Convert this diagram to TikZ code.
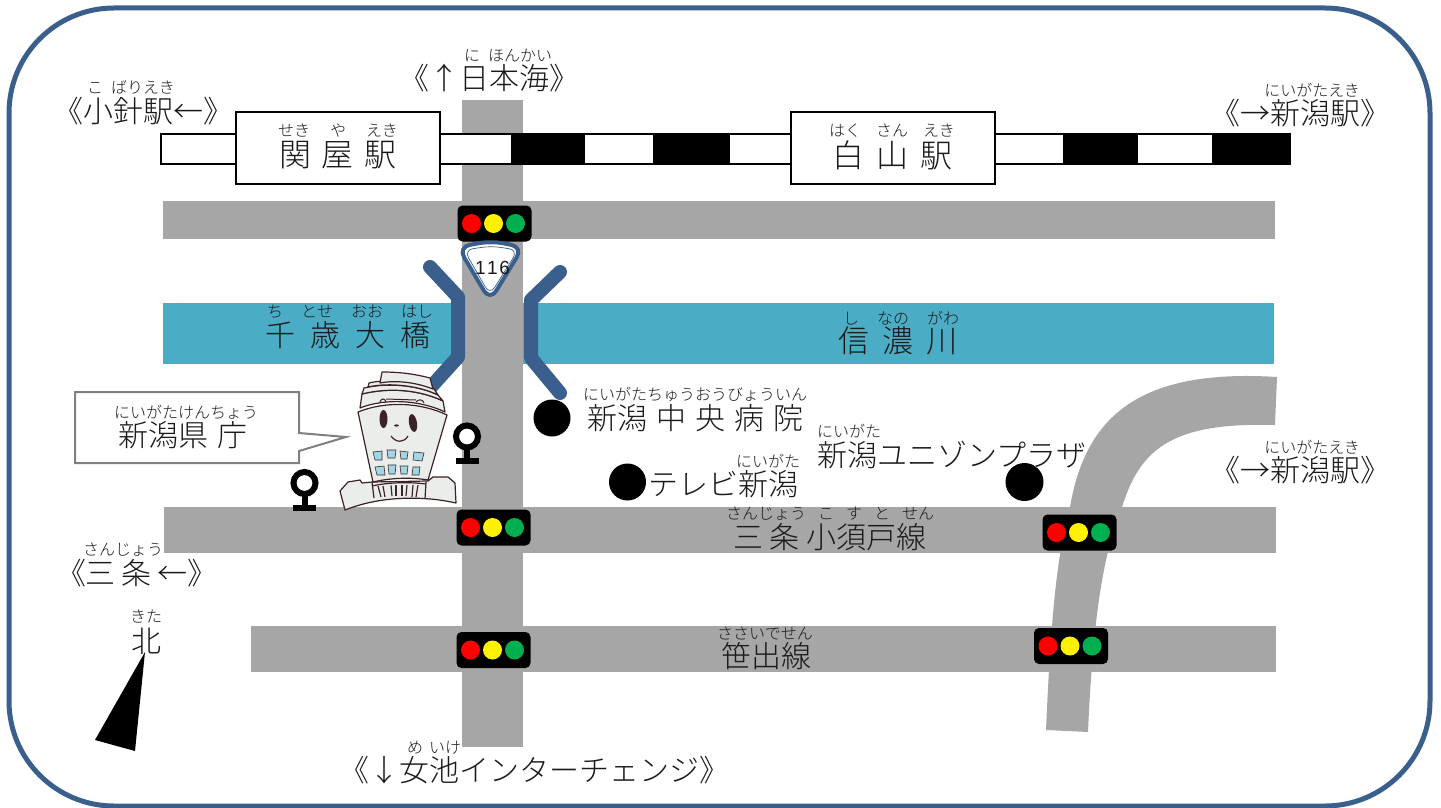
\documentclass[tikz,border=0pt]{standalone}
\usepackage{fontspec}
\setmainfont{Noto Sans CJK JP Light}
\newfontfamily\numfont{Liberation Sans}
\definecolor{frameblue}{HTML}{3B5F8D}
\definecolor{road}{HTML}{A6A6A6}
\definecolor{river}{HTML}{4BACC6}
\definecolor{bldg}{HTML}{EBEDEB}
\definecolor{bline}{HTML}{3A2226}
\definecolor{win}{HTML}{A2D6E2}
\definecolor{ink}{HTML}{1A1A1A}
\definecolor{sigreen}{HTML}{00B050}
\tikzset{
 roadbar/.style={fill=road,draw=none},
 railbox/.style={draw=black,line width=1.6pt,fill=white},
 railblack/.style={fill=black,draw=none},
 stationbox/.style={draw=black,line width=2.4pt,fill=white},
 bridgearm/.style={draw=frameblue,line width=14pt,line cap=round,line join=round},
 lbl/.style={inner sep=0pt,text=ink,font=\fontsize{30}{30}\selectfont},
 rb/.style={inner sep=0pt,text=ink,font=\fontsize{16}{16}\selectfont},
 blg/.style={draw=bline,line width=1.2pt,fill=bldg,line join=round},
 wnd/.style={draw=bline,line width=.6pt,fill=win},
 pinmark/.style={draw=black,line width=6pt,fill=white},
 dot/.style={fill=black,draw=none}
}
\newcommand{\sig}[2]{%
 \fill[black,rounded corners=5pt] (#1-37,#2-18) rectangle (#1+37,#2+18);
 \fill[red] (#1-23,#2) circle (9.5);
 \fill[yellow] (#1-1,#2) circle (9.5);
 \fill[sigreen] (#1+21,#2) circle (9.5);
}
\newcommand{\gp}[1]{\hspace{#1pt}}
\begin{document}
\begin{tikzpicture}[x=1pt,y=-1pt]
\useasboundingbox (0,0) rectangle (1441,808);
\fill[white] (0,0) rectangle (1441,808);
\draw[frameblue,line width=5pt,rounded corners=105pt] (9,8) rectangle (1430,806);
% river and roads
\fill[river] (163,303) rectangle (1274,364);
\fill[road] (1046,730) .. controls (1050,640) and (1055,560) .. (1070,507) .. controls (1085,420) and (1135,368) .. (1277,377) -- (1275,425) .. controls (1170,422) and (1140,450) .. (1122,507) .. controls (1100,560) and (1092,640) .. (1088,732) -- cycle;
\fill[roadbar] (163,201) rectangle (1275,239);
\fill[roadbar] (164,507) rectangle (1276,553);
\fill[roadbar] (251,626) rectangle (1276,672);
\fill[roadbar] (462,100) rectangle (523,747);
% railway
\draw[railbox] (161,134) rectangle (1290,164);
\fill[railblack] (511,134) rectangle (585,165);
\fill[railblack] (653,134) rectangle (730,165);
\fill[railblack] (1063,134) rectangle (1138,165);
\fill[railblack] (1212,134) rectangle (1290,165);
\draw[stationbox] (236,112) rectangle (440,184);
\draw[stationbox] (791,112) rectangle (995,184);
% bridge
\draw[bridgearm] (430,267) -- (458,297) -- (458,357) -- (430,388);
\draw[bridgearm] (560,272) -- (531,300) -- (531,358) -- (560,393);
% signals
\sig{494.5}{223.5}
\sig{493.5}{527.5}
\sig{1079.5}{532.5}
\sig{493.5}{650}
\sig{1071}{646}
% route shield
\draw[frameblue,line width=4pt,fill=white,rounded corners=12pt] (458,247) -- (491,241) -- (523,247) -- (490,301) -- cycle;
\draw[frameblue,line width=.7pt,rounded corners=9pt] (464,250) -- (491,246) -- (518,250) -- (490,295) -- cycle;
\node[inner sep=0pt,text=ink,font=\numfont\fontsize{19}{19}\selectfont] (shield) at (492.5,268) {1\gp{1.5}1\gp{1.5}6};
% markers
\fill[dot] (552,418) circle (18.5);
\fill[dot] (627.5,482) circle (18.5);
\fill[dot] (1024.5,482) circle (19);
\fill[black] (302,491) rectangle (308,506);
\fill[black] (293,505) rectangle (316,511);
\draw[pinmark] (304.5,483) circle (11);
\fill[black] (464,445) rectangle (470,459);
\fill[black] (456,458) rectangle (479,464);
\draw[pinmark] (467,436.5) circle (11);
% callout
\draw[draw=black!50,line width=2pt,fill=white] (75,392) -- (299,392) -- (299,433) -- (346,437) -- (299,451) -- (299,463) -- (75,463) -- cycle;
% building
\draw[blg] (340,491) -- (348,482) -- (360,480) -- (362,483) -- (372,482) -- (428,481) -- (433,477) -- (448,477) -- (455,483) -- (456,503) .. controls (430,497) and (385,494) .. (345,510) -- cycle;
\draw[blg] (372,482) -- (374,498);
\draw[blg] (378,486) -- (381,497); \draw[blg] (383,486) -- (385,497);
\draw[blg] (391,485) -- (392,496); \draw[blg] (396,485) -- (396,496);
\draw[blg] (402,485) -- (402,496); \draw[blg] (407,485) -- (406,496);
\draw[blg] (413,485) -- (412,497); \draw[blg] (418,485) -- (416,497);
\draw[blg] (426,482) -- (425,499);
\draw[blg] (372,486) .. controls (390,482) and (410,482) .. (426,484);
\draw[blg] (358,412) .. controls (385,401) and (420,402) .. (447,415) -- (428,480) .. controls (410,477) and (390,478) .. (373,482) -- cycle;
\draw[blg] (360,408) -- (362,394) .. controls (390,387) and (420,390) .. (443,401) -- (445,412) .. controls (420,400) and (385,398) .. (360,408) -- cycle;
\draw[blg] (362,394) -- (364,388) .. controls (390,382) and (420,386) .. (438,395) -- (443,401) .. controls (420,390) and (390,387) .. (362,394) -- cycle;
\draw[blg] (368,387) -- (369,383) .. controls (390,378) and (420,382) .. (434,389) -- (438,395) .. controls (420,386) and (390,382) .. (368,387) -- cycle;
\draw[blg] (380,383) -- (382,372) .. controls (400,372) and (415,374) .. (430,378) -- (433,389) .. controls (415,382) and (395,380) .. (380,383) -- cycle;
\draw[bline,line width=1pt] (380,402) .. controls (381,398) and (385,398) .. (386,402);
\draw[bline,line width=1pt] (386,399) -- (416,400);
\draw[bline,line width=1pt] (416,402) .. controls (418,399) and (423,399) .. (424,403);
\fill[bline] (383.5,419) ellipse (4 and 9);
\fill[bline,rotate around={10:(413,423)}] (413,423) ellipse (4 and 9);
\fill[bline] (396.5,425.5) ellipse (2.4 and 1.1);
\draw[bline,line width=1.2pt] (391,436) .. controls (396,443) and (404,443) .. (408,436);
\draw[wnd] (373,452) -- (382,451) -- (382,460) -- (375,460) -- cycle;
\draw[wnd] (387,450) -- (396,450) -- (395,458) -- (388,458) -- cycle;
\draw[wnd] (400,451) -- (408,452) -- (407,459) -- (401,459) -- cycle;
\draw[wnd] (414,452) -- (424,453) -- (422,461) -- (413,460) -- cycle;
\draw[wnd] (375,467) -- (384,466) -- (385,475) -- (377,475) -- cycle;
\draw[wnd] (388,465) -- (396,465) -- (395,474) -- (389,474) -- cycle;
\draw[wnd] (400,466) -- (408,466) -- (407,474) -- (401,474) -- cycle;
\draw[wnd] (413,467) -- (420,467) -- (419,475) -- (412,475) -- cycle;
% north arrow
\fill[black] (145,652) -- (95,740) -- (135,751) -- cycle;
% labels
\node[rb] (r01) at (508,55) {に\gp{8}ほんかい};
\node[lbl] (t01) at (489,78) {《↑日本海》};
\node[rb] (r02) at (131,87) {こ\gp{8}ばりえき};
\node[lbl] (t02) at (143,111) {《小針駅←》};
\node[rb] (r03) at (338,131) {せき\gp{20}や\gp{20}えき};
\node[lbl,font=\fontsize{32}{32}\selectfont] (t03) at (338,155) {関\gp{11}屋\gp{11}駅};
\node[rb] (r04) at (892,131) {はく\gp{15}さん\gp{15}えき};
\node[lbl,font=\fontsize{32}{32}\selectfont] (t04) at (892,155) {白\gp{12}山\gp{12}駅};
\node[rb] (r05) at (1312,90) {にいがたえき};
\node[lbl] (t05) at (1300,113) {《→新潟駅》};
\node[rb] (r06) at (350,312) {ち\gp{18}とせ\gp{18}おお\gp{18}はし};
\node[lbl] (t06) at (348,335) {千\gp{15}歳\gp{15}大\gp{15}橋};
\node[rb] (r07) at (901,318) {し\gp{18}なの\gp{18}がわ};
\node[lbl,font=\fontsize{31}{31}\selectfont] (t07) at (898,341) {信\gp{13}濃\gp{13}川};
\node[rb] (r08) at (186,412) {にいがたけんちょう};
\node[lbl] (t08) at (183,435) {新潟県\gp{9}庁};
\node[rb] (r09) at (695,394) {にいがたちゅうおうびょういん};
\node[lbl] (t09) at (695,418) {新潟\gp{9}中\gp{9}央\gp{9}病\gp{9}院};
\node[rb] (r10) at (849,431) {にいがた};
\node[lbl] (t10) at (952,455) {新潟ユニゾンプラザ};
\node[rb] (r11) at (768,461) {にいがた};
\node[lbl] (t11) at (723,484) {テレビ新潟};
\node[rb] (r12) at (1312,447) {にいがたえき};
\node[lbl] (t12) at (1300,470) {《→新潟駅》};
\node[rb] (r13) at (830,514) {さんじょう\gp{12}こ\gp{12}す\gp{12}と\gp{12}せん};
\node[lbl] (t13) at (830,537) {三\gp{7}条\gp{7}小須戸線};
\node[rb] (r14) at (123,550) {さんじょう};
\node[lbl] (t14) at (137,573) {《三\gp{6}条\gp{6}←》};
\node[rb] (r15) at (146,617) {きた};
\node[lbl] (t15) at (146,641) {北};
\node[rb] (r16) at (765,633) {ささいでせん};
\node[lbl] (t16) at (766,656) {笹出線};
\node[rb] (r17) at (434,748) {め\gp{6}いけ};
\node[lbl,font=\fontsize{30}{30}\selectfont] (t17) at (534,770) {《↓女池インターチェンジ》};
\end{tikzpicture}
\end{document}
